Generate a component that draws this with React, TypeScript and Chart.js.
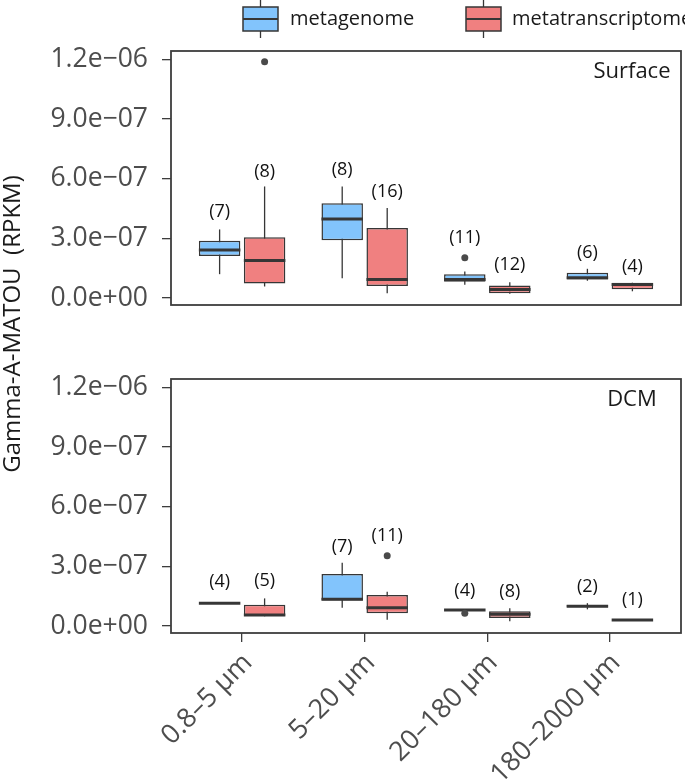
import React, { useEffect, useRef } from 'react';
import { Chart, registerables } from 'chart.js';

Chart.register(...registerables);

// ---------- data ----------
const sizeClasses = ['0.8–5 µm', '5–20 µm', '20–180 µm', '180–2000 µm'];
const categoryPositions = [1, 2, 3, 4];
const seriesNames = ['metagenome', 'metatranscriptome'];
const panelNames = ['Surface', 'DCM'];
const yTickValues = [0, 3e-7, 6e-7, 9e-7, 1.2e-6];
const yTickLabels = ['0.0e+00', '3.0e−07', '6.0e−07', '9.0e−07', '1.2e−06'];
const yTitle = 'Gamma-A-MATOU  (RPKM)';

// Surface – metagenome
const surfMgLow = [1.2e-7, 1.0e-7, 0.67e-7, 0.87e-7];
const surfMgQ1 = [2.11e-7, 2.9e-7, 0.82e-7, 0.93e-7];
const surfMgMedian = [2.41e-7, 3.97e-7, 0.93e-7, 1.02e-7];
const surfMgQ3 = [2.88e-7, 4.77e-7, 1.2e-7, 1.27e-7];
const surfMgHigh = [3.45e-7, 5.61e-7, 1.34e-7, 1.47e-7];
const surfMgOutliers = [[], [], [2.03e-7], []];
const surfMgN = [7, 8, 11, 6];
const surfMgLabelY = [4.31e-7, 6.43e-7, 3.02e-7, 2.28e-7];

// Surface – metatranscriptome
const surfMtLow = [0.58e-7, 0.24e-7, 0.22e-7, 0.34e-7];
const surfMtQ1 = [0.73e-7, 0.6e-7, 0.24e-7, 0.44e-7];
const surfMtMedian = [1.89e-7, 0.93e-7, 0.43e-7, 0.68e-7];
const surfMtQ3 = [3.05e-7, 3.52e-7, 0.63e-7, 0.77e-7];
const surfMtHigh = [5.61e-7, 4.53e-7, 0.8e-7, 0.77e-7];
const surfMtOutliers = [[11.88e-7], [], [], []];
const surfMtN = [8, 16, 12, 4];
const surfMtLabelY = [6.33e-7, 5.34e-7, 1.67e-7, 1.55e-7];

// DCM – metagenome
const dcmMgLow = [1.13e-7, 0.92e-7, 0.8e-7, 0.84e-7];
const dcmMgQ1 = [1.13e-7, 1.29e-7, 0.8e-7, 0.94e-7];
const dcmMgMedian = [1.14e-7, 1.35e-7, 0.81e-7, 1.0e-7];
const dcmMgQ3 = [1.15e-7, 2.61e-7, 0.82e-7, 1.06e-7];
const dcmMgHigh = [1.15e-7, 3.18e-7, 0.82e-7, 1.15e-7];
const dcmMgOutliers = [[], [], [0.64e-7], []];
const dcmMgN = [4, 7, 4, 2];
const dcmMgLabelY = [2.22e-7, 3.98e-7, 1.77e-7, 1.99e-7];

// DCM – metatranscriptome
const dcmMtLow = [0.49e-7, 0.32e-7, 0.24e-7, 0.3e-7];
const dcmMtQ1 = [0.52e-7, 0.64e-7, 0.4e-7, 0.3e-7];
const dcmMtMedian = [0.55e-7, 0.92e-7, 0.59e-7, 0.3e-7];
const dcmMtQ3 = [1.07e-7, 1.56e-7, 0.74e-7, 0.3e-7];
const dcmMtHigh = [1.39e-7, 1.72e-7, 0.89e-7, 0.3e-7];
const dcmMtOutliers = [[], [3.53e-7], [], []];
const dcmMtN = [5, 11, 8, 1];
const dcmMtLabelY = [2.26e-7, 4.53e-7, 1.74e-7, 1.32e-7];

// ---------- style ----------
const FONT = '"Open Sans", "Noto Sans", "DejaVu Sans", sans-serif';
const BLUE = '#82C4FC';
const RED = '#F08080';
const LINE = '#363636';
const AXIS_TEXT = '#4d4d4d';
const W = 685;
const H = 784;
const PANEL_LEFT = 171;
const PANEL_RIGHT_PAD = 4;

function makeDataset(name, color, low, q1, median, q3, high, outliers, n, labelY) {
  return {
    label: name,
    data: q1.map((v, i) => ({ x: categoryPositions[i], y: [v, q3[i]] })),
    backgroundColor: color,
    borderColor: LINE,
    borderWidth: 1.5,
    borderSkipped: false,
    categoryPercentage: 0.734,
    barPercentage: 0.922,
    stats: { low, median, high, outliers, n, labelY },
  };
}

const boxExtras = {
  id: 'boxExtras',
  beforeDatasetsDraw(chart) {
    const ctx = chart.ctx;
    const ys = chart.scales.y;
    chart.data.datasets.forEach((ds, d) => {
      const meta = chart.getDatasetMeta(d);
      meta.data.forEach((el, i) => {
        const s = ds.stats;
        ctx.save();
        ctx.strokeStyle = LINE;
        ctx.lineWidth = 1.3;
        ctx.beginPath();
        ctx.moveTo(el.x, ys.getPixelForValue(s.high[i]));
        ctx.lineTo(el.x, ys.getPixelForValue(s.low[i]));
        ctx.stroke();
        ctx.restore();
      });
    });
  },
  afterDatasetsDraw(chart, _args, opts) {
    const ctx = chart.ctx;
    const ys = chart.scales.y;
    const xs = chart.scales.x;
    const area = chart.chartArea;
    chart.data.datasets.forEach((ds, d) => {
      const meta = chart.getDatasetMeta(d);
      const s = ds.stats;
      meta.data.forEach((el, i) => {
        const half = el.width / 2;
        ctx.save();
        ctx.strokeStyle = LINE;
        ctx.lineWidth = 3;
        ctx.beginPath();
        const my = ys.getPixelForValue(s.median[i]);
        ctx.moveTo(el.x - half, my);
        ctx.lineTo(el.x + half, my);
        ctx.stroke();
        ctx.fillStyle = '#4a4a4a';
        s.outliers[i].forEach((v) => {
          ctx.beginPath();
          ctx.arc(el.x, ys.getPixelForValue(v), 3.5, 0, Math.PI * 2);
          ctx.fill();
        });
        ctx.fillStyle = '#111';
        ctx.font = `18px ${FONT}`;
        ctx.textAlign = 'center';
        ctx.textBaseline = 'middle';
        ctx.fillText(`(${s.n[i]})`, el.x, ys.getPixelForValue(s.labelY[i]));
        ctx.restore();
      });
    });

    ctx.save();
    ctx.strokeStyle = '#3d3d3d';
    ctx.lineWidth = 1.8;
    ctx.strokeRect(area.left, area.top, area.right - area.left, area.bottom - area.top);
    ctx.fillStyle = '#1a1a1a';
    ctx.font = `22px ${FONT}`;
    ctx.textAlign = 'center';
    ctx.textBaseline = 'middle';
    ctx.fillText(opts.strip, xs.getPixelForValue(4.18), area.top + 21);

    if (opts.legend) {
      const keys = [
        { x: 243, tx: 290 },
        { x: 466, tx: 512 },
      ];
      chart.data.datasets.forEach((ds, d) => {
        const k = keys[d];
        const cx = k.x + 17.5;
        ctx.strokeStyle = LINE;
        ctx.lineWidth = 1.3;
        ctx.beginPath();
        ctx.moveTo(cx, 0);
        ctx.lineTo(cx, 38);
        ctx.stroke();
        ctx.fillStyle = ds.backgroundColor;
        ctx.fillRect(k.x, 7, 35, 24);
        ctx.lineWidth = 1.5;
        ctx.strokeRect(k.x, 7, 35, 24);
        ctx.lineWidth = 2.2;
        ctx.beginPath();
        ctx.moveTo(k.x, 19);
        ctx.lineTo(k.x + 35, 19);
        ctx.stroke();
        ctx.fillStyle = '#1a1a1a';
        ctx.font = `20px ${FONT}`;
        ctx.textAlign = 'left';
        ctx.textBaseline = 'middle';
        ctx.fillText(ds.label, k.tx, 19);
      });
    }

    if (opts.yTitle) {
      ctx.translate(20, 324);
      ctx.rotate(-Math.PI / 2);
      ctx.fillStyle = '#1a1a1a';
      ctx.font = `24px ${FONT}`;
      ctx.textAlign = 'center';
      ctx.textBaseline = 'alphabetic';
      ctx.fillText(opts.yTitle, 0, 0);
    }
    ctx.restore();
  },
};

function panelConfig(panel, datasets, showX, padTop, padBottom, legend, title) {
  return {
    type: 'bar',
    data: { datasets },
    plugins: [boxExtras],
    options: {
      responsive: false,
      devicePixelRatio: 1,
      animation: false,
      layout: { padding: { left: 0, right: PANEL_RIGHT_PAD, top: padTop, bottom: padBottom } },
      plugins: {
        legend: { display: false },
        tooltip: { enabled: false },
        boxExtras: { strip: panel, legend, yTitle: title },
      },
      scales: {
        x: {
          type: 'linear',
          display: showX,
          min: 0.42,
          max: 4.58,
          offset: false,
          afterBuildTicks: (s) => {
            s.ticks = categoryPositions.map((v) => ({ value: v }));
          },
          afterFit: (s) => {
            if (showX) s.height = H - 633;
          },
          grid: { drawOnChartArea: false, offset: false, tickLength: 9, color: '#3d3d3d', lineWidth: 1.3 },
          border: { display: false },
          ticks: {
            autoSkip: false,
            minRotation: 45,
            maxRotation: 45,
            padding: 5,
            labelOffset: 6,
            color: AXIS_TEXT,
            font: { family: FONT, size: 27 },
            callback: (v) => sizeClasses[categoryPositions.indexOf(v)],
          },
        },
        y: {
          type: 'linear',
          min: -3.5e-8,
          max: 1.242e-6,
          afterBuildTicks: (s) => {
            s.ticks = yTickValues.map((v) => ({ value: v }));
          },
          afterFit: (s) => {
            s.width = PANEL_LEFT;
          },
          grid: { drawOnChartArea: false, tickLength: 9, color: '#3d3d3d', lineWidth: 1.3 },
          border: { display: false },
          ticks: {
            padding: 14,
            color: AXIS_TEXT,
            font: { family: FONT, size: 26.5 },
            callback: (_v, i) => yTickLabels[i],
          },
        },
      },
    },
  };
}

export default function App() {
  const topRef = useRef(null);
  const botRef = useRef(null);

  useEffect(() => {
    const surfaceSets = [
      makeDataset(seriesNames[0], BLUE, surfMgLow, surfMgQ1, surfMgMedian, surfMgQ3, surfMgHigh, surfMgOutliers, surfMgN, surfMgLabelY),
      makeDataset(seriesNames[1], RED, surfMtLow, surfMtQ1, surfMtMedian, surfMtQ3, surfMtHigh, surfMtOutliers, surfMtN, surfMtLabelY),
    ];
    const dcmSets = [
      makeDataset(seriesNames[0], BLUE, dcmMgLow, dcmMgQ1, dcmMgMedian, dcmMgQ3, dcmMgHigh, dcmMgOutliers, dcmMgN, dcmMgLabelY),
      makeDataset(seriesNames[1], RED, dcmMtLow, dcmMtQ1, dcmMtMedian, dcmMtQ3, dcmMtHigh, dcmMtOutliers, dcmMtN, dcmMtLabelY),
    ];
    const top = new Chart(topRef.current, panelConfig(panelNames[0], surfaceSets, false, 51, H - 305, true, null) as any);
    const bot = new Chart(botRef.current, panelConfig(panelNames[1], dcmSets, true, 379, 0, false, yTitle) as any);
    return () => {
      top.destroy();
      bot.destroy();
    };
  }, []);

  const canvasStyle: React.CSSProperties = { position: 'absolute', left: 0, top: 0, width: W, height: H };
  return (
    <div style={{ position: 'absolute', left: 0, top: 0, width: W, height: H, background: '#fff' }}>
      <canvas ref={botRef} width={W} height={H} style={canvasStyle} />
      <canvas ref={topRef} width={W} height={H} style={canvasStyle} />
    </div>
  );
}
